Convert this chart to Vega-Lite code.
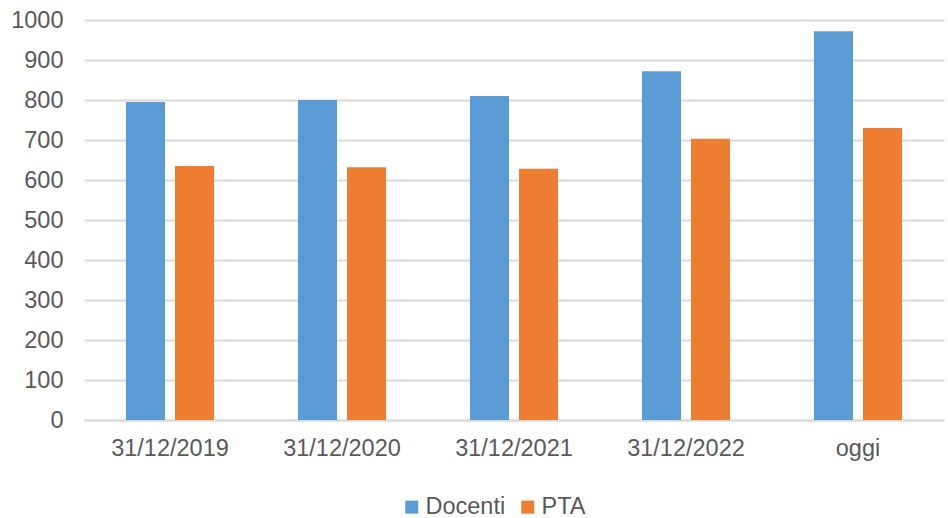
{
  "$schema": "https://vega.github.io/schema/vega-lite/v6.json",
  "autosize": "none",
  "padding": {"left": 84, "top": 20, "right": 4, "bottom": 98},
  "width": 860,
  "height": 400,
  "background": "white",
  "config": {"view": {"stroke": null}, "font": "Liberation Sans"},
  "data": {"values": [
    {"data": "31/12/2019", "serie": "Docenti", "valore": 795},
    {"data": "31/12/2019", "serie": "PTA", "valore": 635},
    {"data": "31/12/2020", "serie": "Docenti", "valore": 800},
    {"data": "31/12/2020", "serie": "PTA", "valore": 632},
    {"data": "31/12/2021", "serie": "Docenti", "valore": 810},
    {"data": "31/12/2021", "serie": "PTA", "valore": 628},
    {"data": "31/12/2022", "serie": "Docenti", "valore": 872},
    {"data": "31/12/2022", "serie": "PTA", "valore": 703},
    {"data": "oggi", "serie": "Docenti", "valore": 972},
    {"data": "oggi", "serie": "PTA", "valore": 730}
  ]},
  "mark": {"type": "bar"},
  "encoding": {
    "x": {
      "field": "data", "type": "nominal", "sort": null,
      "scale": {"paddingInner": 0.488, "paddingOuter": 0.244},
      "axis": {
        "title": null, "labelAngle": 0, "labelFontSize": 23.5, "labelColor": "#595959",
        "labelPadding": 16, "ticks": false, "domain": true, "domainColor": "#d9d9d9",
        "domainWidth": 2, "grid": false
      }
    },
    "xOffset": {"field": "serie", "type": "nominal", "scale": {"paddingInner": 0.204, "paddingOuter": 0}},
    "y": {
      "field": "valore", "type": "quantitative",
      "scale": {"domain": [0, 1000], "nice": false},
      "axis": {
        "title": null, "values": [0,100,200,300,400,500,600,700,800,900,1000], "format": "d",
        "labelFontSize": 23.5, "labelColor": "#595959", "labelPadding": 21,
        "ticks": false, "domain": false, "grid": true, "gridColor": "#d9d9d9", "gridWidth": 2
      }
    },
    "color": {
      "field": "serie", "type": "nominal",
      "scale": {"domain": ["Docenti", "PTA"], "range": ["#5B9BD5", "#ED7D31"]},
      "legend": {
        "title": null, "orient": "none", "direction": "horizontal",
        "legendX": 316, "legendY": 475,
        "symbolType": "square", "symbolSize": 169, "symbolStrokeWidth": 0,
        "labelFontSize": 23.5, "labelColor": "#595959", "labelOffset": 2,
        "columnPadding": 10
      }
    }
  }
}
